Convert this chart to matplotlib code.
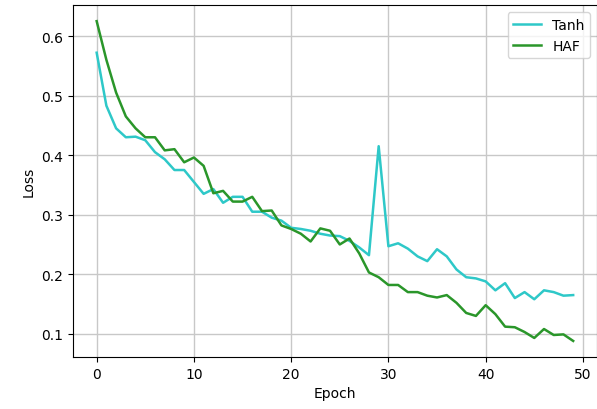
import matplotlib.pyplot as plt
import numpy as np

epochs = np.arange(50)

tanh_loss = [
    0.572, 0.483, 0.445, 0.430, 0.431, 0.425, 0.405, 0.393, 0.375, 0.375,
    0.355, 0.335, 0.343, 0.320, 0.330, 0.330, 0.305, 0.305, 0.295, 0.290,
    0.278, 0.276, 0.273, 0.268, 0.265, 0.264, 0.256, 0.245, 0.232, 0.415,
    0.247, 0.252, 0.243, 0.230, 0.222, 0.242, 0.230, 0.208, 0.195, 0.193,
    0.188, 0.173, 0.185, 0.160, 0.170, 0.158, 0.173, 0.170, 0.164, 0.165,
]

haf_loss = [
    0.625, 0.560, 0.505, 0.465, 0.445, 0.430, 0.430, 0.408, 0.410, 0.388,
    0.396, 0.382, 0.336, 0.340, 0.322, 0.322, 0.330, 0.306, 0.307, 0.282,
    0.276, 0.268, 0.255, 0.277, 0.273, 0.250, 0.260, 0.235, 0.203, 0.195,
    0.182, 0.182, 0.170, 0.170, 0.164, 0.161, 0.165, 0.152, 0.135, 0.130,
    0.148, 0.133, 0.112, 0.111, 0.103, 0.093, 0.108, 0.098, 0.099, 0.088,
]

fig = plt.figure(figsize=(5.97, 4.10), dpi=100)
ax = fig.add_axes([0.122, 0.127, 0.878, 0.858])

ax.plot(epochs, tanh_loss, color="#2ec8c8", linewidth=1.8, label="Tanh")
ax.plot(epochs, haf_loss, color="#2a962a", linewidth=1.8, label="HAF")

ax.set_xlabel("Epoch")
ax.set_ylabel("Loss")
ax.grid(True, color="#c8c8c8", linewidth=1.0)
ax.legend(loc="upper right")

plt.savefig("out.png", dpi=100)
